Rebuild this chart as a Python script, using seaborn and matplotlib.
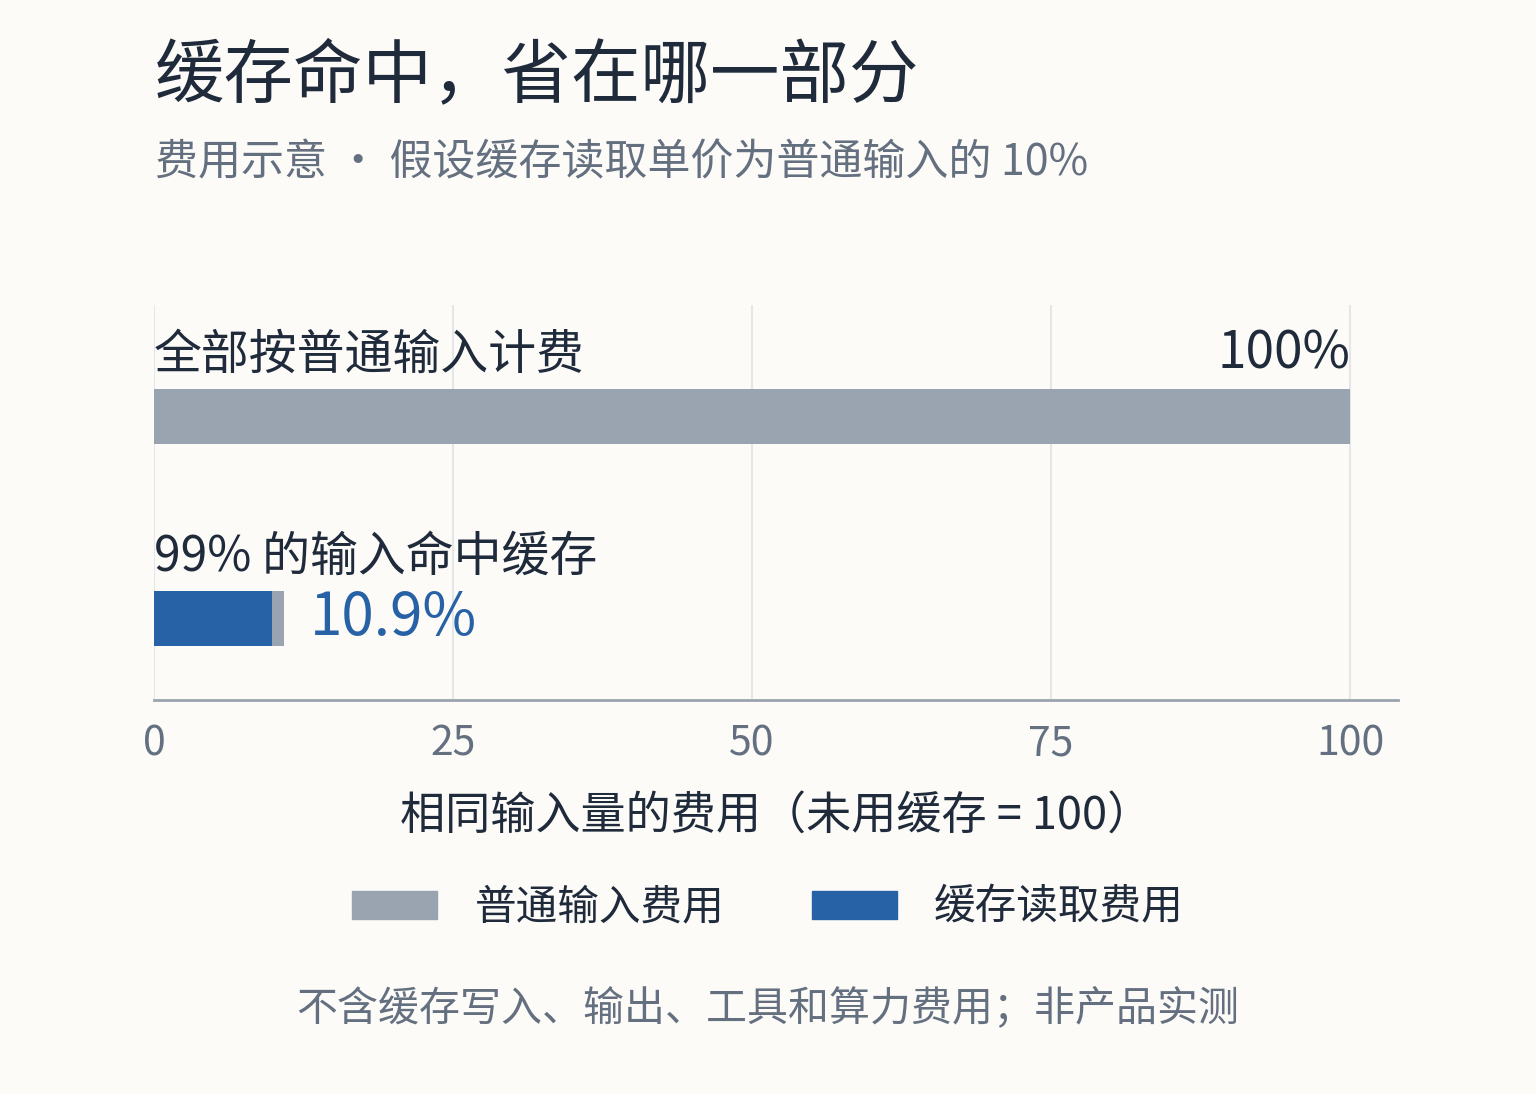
import matplotlib
matplotlib.use("Agg")
import matplotlib.pyplot as plt
import matplotlib.patches as mpatches
import seaborn as sns
import pandas as pd

# ---- data ----
categories = ["全部按普通输入计费", "99% 的输入命中缓存"]
normal_cost = [100.0, 1.0]     # 普通输入费用
cache_cost = [0.0, 9.9]        # 缓存读取费用
value_labels = ["100%", "10.9%"]
xticks = [0, 25, 50, 75, 100]
series_names = ["普通输入费用", "缓存读取费用"]

title = "缓存命中，省在哪一部分"
subtitle = "费用示意 · 假设缓存读取单价为普通输入的 10%"
xlabel = "相同输入量的费用（未用缓存 = 100）"
footnote = "不含缓存写入、输出、工具和算力费用；非产品实测"

GRAY = "#9AA4B1"
BLUE = "#2662A5"
DARK = "#1F2A3B"
MUTED = "#647080"
BG = "#FCFBF8"

sns.set_theme(style="white")
plt.rcParams["font.family"] = ["Noto Sans CJK SC", "DejaVu Sans"]

df = pd.DataFrame({
    "cat": categories,
    "normal": normal_cost,
    "cache": cache_cost,
})
df["total"] = df["normal"] + df["cache"]

fig = plt.figure(figsize=(15.36, 10.94), dpi=100, facecolor=BG)
ax = fig.add_axes([154 / 1536, 1 - 700 / 1094, (1398 - 154) / 1536, (700 - 305) / 1094])
ax.set_facecolor(BG)

sns.barplot(data=df, y="cat", x="total", color=GRAY, orient="h", width=0.272,
            ax=ax, saturation=1, zorder=2, linewidth=0, edgecolor="none")
sns.barplot(data=df, y="cat", x="cache", color=BLUE, orient="h", width=0.272,
            ax=ax, saturation=1, zorder=3, linewidth=0, edgecolor="none")

ax.set_xlim(0, 104)
ax.set_ylim(1.403, -0.552)
ax.set_xticks(xticks)
ax.set_xticklabels([str(t) for t in xticks], fontsize=29.5, color=MUTED)
ax.tick_params(axis="x", length=0, pad=17)
ax.set_yticks([])
ax.set_ylabel("")
ax.set_xlabel(xlabel, fontsize=32.5, color=DARK, labelpad=20)

for t in xticks:
    ax.axvline(t, color="#E4E6EA", lw=1.5, zorder=1)

for s in ["top", "right", "left"]:
    ax.spines[s].set_visible(False)
ax.spines["bottom"].set_color("#9AA3AE")
ax.spines["bottom"].set_linewidth(2)

# category labels above bars
for i, c in enumerate(categories):
    ax.text(0, i - 0.303, c, fontsize=34.5, color=DARK, ha="left", va="center", zorder=4)

# value labels
ax.text(df["total"][0], -0.313, value_labels[0], fontsize=37, color=DARK,
        ha="right", va="center", zorder=4)
ax.text(df["total"][1] + 2.1, 1.0, value_labels[1], fontsize=42, color=BLUE,
        ha="left", va="center", zorder=4)

# title & subtitle
fig.text(155 / 1536, 1 - 76 / 1094, title, fontsize=50, color=DARK, ha="left", va="center")
fig.text(155 / 1536, 1 - 163 / 1094, subtitle, fontsize=31, color=MUTED, ha="left", va="center")

# legend
handles = [mpatches.Patch(color=GRAY, label=series_names[0]),
           mpatches.Patch(color=BLUE, label=series_names[1])]
leg = fig.legend(handles=handles, loc="center", bbox_to_anchor=(0.5, 1 - 908 / 1094),
                 ncol=2, frameon=False, fontsize=30, handlelength=2.04, handleheight=0.67,
                 handletextpad=0.89, columnspacing=2.1)
for t in leg.get_texts():
    t.set_color(DARK)

fig.text(0.5, 1 - 1009 / 1094, footnote, fontsize=29.5, color=MUTED, ha="center", va="center")

fig.savefig("out.png", dpi=100, facecolor=BG)
